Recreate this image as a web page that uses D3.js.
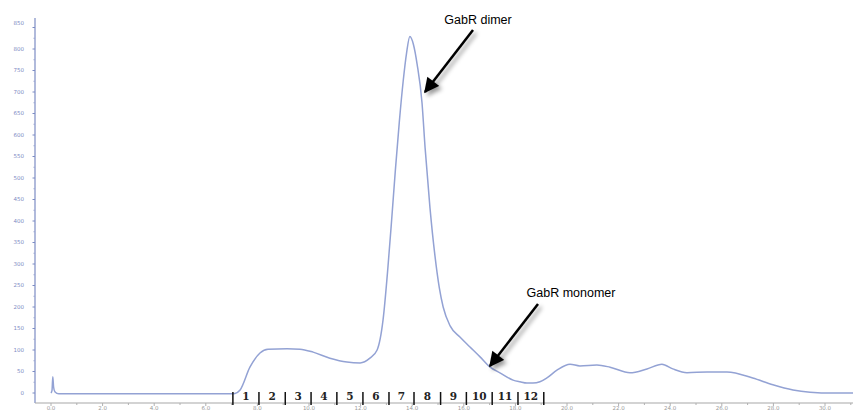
<!DOCTYPE html>
<html>
<head>
<meta charset="utf-8">
<script src="https://cdn.jsdelivr.net/npm/d3@7"></script>
<style>
  body { margin: 0; background: #fff; }
  svg { display: block; }
</style>
</head>
<body>
<svg width="853" height="412"></svg>
<script>
// elution volume (ml) and absorbance (mAU)
var volume = [0, 0.04, 0.07, 0.1, 0.15, 0.3, 3.5, 7.0, 7.13, 7.33, 7.71, 8.1, 8.41, 9.15, 9.65,
  10.16, 10.81, 11.47, 11.98, 12.36, 12.64, 12.87, 13.06, 13.2, 13.35, 13.5, 13.65, 13.78, 13.91,
  14.05, 14.19, 14.38, 14.5, 14.69, 14.88, 15.05, 15.2, 15.47, 15.85, 16.24, 16.63, 17.02, 17.4,
  17.91, 18.18, 18.45, 18.68, 18.95, 19.22, 19.61, 20.12, 20.5, 21.16, 21.67, 22.44, 23.1, 23.68,
  24.1, 24.65, 25.43, 26.2, 27.2, 27.98, 28.76, 29.42, 30.3, 31.1];
var absorbance = [0, 6, 38, 14, 3, -2, -2, -2, -1, 7, 60, 93, 102, 103, 102,
  95, 81, 72, 70, 81, 100, 170, 293, 400, 520, 630, 725, 790, 829,
  810, 765, 675, 570, 430, 320, 245, 200, 156, 130, 107, 84, 60, 47,
  30, 26, 23, 23, 26, 35, 53, 67, 63, 65, 60, 47, 56, 67,
  56, 47, 49, 49, 35, 19, 7, 2, 0, 0];

var yTicks = [0, 50, 100, 150, 200, 250, 300, 350, 400, 450, 500, 550, 600, 650, 700, 750, 800, 850];
var xTicks = [0, 2, 4, 6, 8, 10, 12, 14, 16, 18, 20, 22, 24, 26, 28, 30];

// fraction boundaries and labels
var fractionEdges = [7.05, 8.06, 9.08, 10.08, 11.08, 12.09, 13.1, 14.07, 15.1, 16.1, 17.1, 18.1, 19.1];
var fractionNames = ["1", "2", "3", "4", "5", "6", "7", "8", "9", "10", "11", "12"];

var annotations = [
  { text: "GabR dimer", tx: 478, ty: 24, from: [473, 30], to: [425, 92] },
  { text: "GabR monomer", tx: 571, ty: 297, from: [538, 304], to: [490, 366] }
];

var svg = d3.select("svg");

var x = d3.scaleLinear().domain([0, 30]).range([51, 825]);
var y = d3.scaleLinear().domain([0, 800]).range([393, 49]);

var defs = svg.append("defs");
var shadow = defs.append("filter").attr("id", "shadow")
  .attr("x", "-50%").attr("y", "-50%").attr("width", "200%").attr("height", "200%");
shadow.append("feDropShadow")
  .attr("dx", 3).attr("dy", 3).attr("stdDeviation", 2)
  .attr("flood-color", "#000").attr("flood-opacity", 0.4);

defs.append("marker")
  .attr("id", "head")
  .attr("viewBox", "0 0 10 10")
  .attr("refX", 9).attr("refY", 5)
  .attr("markerWidth", 6.4).attr("markerHeight", 6)
  .attr("markerUnits", "strokeWidth")
  .attr("orient", "auto")
  .append("path").attr("d", "M0,0L10,5L0,10z").attr("fill", "#000");

// y axis
var yAxis = svg.append("g").attr("transform", "translate(35,0)");
yAxis.append("line")
  .attr("x1", 0).attr("x2", 0).attr("y1", 18).attr("y2", 403)
  .attr("stroke", "#7c8cc4").attr("stroke-width", 1.2);
yAxis.selectAll(".minor").data(d3.range(25, 850, 50)).enter().append("line")
  .attr("x1", -1.5).attr("x2", 0)
  .attr("y1", function (d) { return y(d); }).attr("y2", function (d) { return y(d); })
  .attr("stroke", "#9aa6d2");
yAxis.selectAll(".major").data(yTicks).enter().append("line")
  .attr("x1", -2.5).attr("x2", 0)
  .attr("y1", function (d) { return y(d); }).attr("y2", function (d) { return y(d); })
  .attr("stroke", "#7c8cc4");
yAxis.selectAll("text").data(yTicks).enter().append("text")
  .attr("x", -11)
  .attr("y", function (d) { return d == 850 ? y(d) - 4 : y(d); })
  .attr("dy", "0.35em")
  .attr("text-anchor", "end")
  .attr("font-family", "DejaVu Sans, sans-serif")
  .attr("font-size", 5.5)
  .attr("fill", "#7d8ac4")
  .text(function (d) { return d; });

// x axis
var xAxis = svg.append("g").attr("transform", "translate(0,403)");
xAxis.append("line")
  .attr("x1", 35).attr("x2", 853)
  .attr("stroke", "#a8a8a8").attr("stroke-width", 1.2);
xAxis.selectAll(".tick").data(d3.range(0, 32, 1)).enter().append("line")
  .attr("x1", function (d) { return x(d); }).attr("x2", function (d) { return x(d); })
  .attr("y1", 0).attr("y2", function (d) { return d % 2 == 0 ? 3 : 2; })
  .attr("stroke", "#b0b0b0");
xAxis.selectAll("text").data(xTicks).enter().append("text")
  .attr("x", function (d) { return x(d); })
  .attr("y", 6.5)
  .attr("text-anchor", "middle")
  .attr("font-family", "DejaVu Sans, sans-serif")
  .attr("font-size", 5.5)
  .attr("fill", "#9a9a9a")
  .text(function (d) { return d.toFixed(1); });

// chromatogram trace
var points = volume.map(function (v, i) { return [v, absorbance[i]]; });
var line = d3.line()
  .x(function (d) { return x(d[0]); })
  .y(function (d) { return y(d[1]); })
  .curve(d3.curveMonotoneX);

svg.append("path")
  .datum(points)
  .attr("d", line)
  .attr("fill", "none")
  .attr("stroke", "#93a2d4")
  .attr("stroke-width", 1.5);

// fraction markers
var frac = svg.append("g");
frac.selectAll("line").data(fractionEdges).enter().append("line")
  .attr("x1", function (d) { return x(d); }).attr("x2", function (d) { return x(d); })
  .attr("y1", 392).attr("y2", 405)
  .attr("stroke", "#111").attr("stroke-width", 1.5);
frac.selectAll("text").data(fractionNames).enter().append("text")
  .attr("x", function (d, i) { return x((fractionEdges[i] + fractionEdges[i + 1]) / 2); })
  .attr("y", 399.5)
  .attr("text-anchor", "middle")
  .attr("font-family", "DejaVu Serif, serif")
  .attr("font-weight", "bold")
  .attr("font-size", 10.5)
  .attr("fill", "#222")
  .text(function (d) { return d; });

// annotation arrows
var notes = svg.append("g");
notes.selectAll("line").data(annotations).enter().append("line")
  .attr("x1", function (d) { return d.from[0]; }).attr("y1", function (d) { return d.from[1]; })
  .attr("x2", function (d) { return d.to[0]; }).attr("y2", function (d) { return d.to[1]; })
  .attr("stroke", "#000").attr("stroke-width", 2.5)
  .attr("marker-end", "url(#head)")
  .attr("filter", "url(#shadow)");
notes.selectAll("text").data(annotations).enter().append("text")
  .attr("x", function (d) { return d.tx; })
  .attr("y", function (d) { return d.ty; })
  .attr("text-anchor", "middle")
  .attr("font-family", "Liberation Sans, Arial, sans-serif")
  .attr("font-size", 12.5)
  .attr("fill", "#000")
  .text(function (d) { return d.text; });
</script>
</body>
</html>
